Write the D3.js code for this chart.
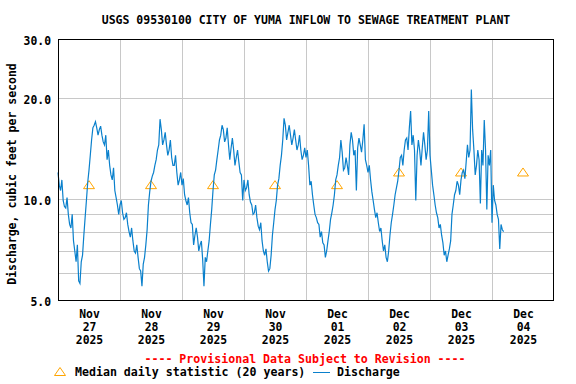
<!DOCTYPE html>
<html>
<head>
<meta charset="utf-8">
<script src="https://cdn.jsdelivr.net/npm/d3@7"></script>
<style>
  body { margin: 0; background: #fff; }
  text { font-family: "DejaVu Sans Mono", monospace; font-weight: bold; }
</style>
</head>
<body>
<div id="chart"></div>
<script>
// half-hourly discharge readings (cfs), one array per day starting 00:00 UTC
var nov27 = [12.0,11.0,10.6,11.4,9.9,9.5,9.4,10.1,9.0,8.4,8.2,9.0,7.5,7.0,6.5,7.3,5.7,5.6,6.5,6.8,7.8,8.8,9.9,11.2,
             12.2,13.5,15.0,16.3,16.6,17.0,16.3,15.5,16.1,16.5,15.5,14.8,14.5,15.5,13.1,14.0,12.6,11.8,11.4,12.4,10.6,10.1,9.6,9.0];
var nov28 = [9.6,9.9,9.1,8.7,8.8,9.1,8.4,8.0,7.7,8.2,7.5,7.0,6.9,7.3,6.7,6.2,6.1,5.5,6.4,6.7,7.3,8.1,9.6,10.5,
             11.3,11.7,12.0,12.6,13.1,14.0,14.5,17.3,16.1,14.5,15.0,15.8,14.5,13.5,14.0,15.0,13.3,12.6,12.6,13.5,12.0,11.0,11.4,12.0];
var nov29 = [11.0,11.5,10.3,9.9,9.6,10.1,9.1,8.5,8.4,7.3,7.8,8.2,7.7,7.0,7.3,7.5,6.6,5.5,6.7,6.5,7.0,7.5,8.4,9.3,
             10.6,11.8,12.2,13.1,14.0,15.0,15.5,16.6,16.1,14.8,15.2,16.3,14.5,13.1,14.2,15.2,14.0,12.6,13.3,14.0,12.9,12.0,11.8,9.9];
var nov30 = [11.4,10.6,10.8,11.4,10.3,9.8,9.6,9.0,9.1,9.6,8.8,8.3,8.1,8.5,7.5,7.0,6.8,7.1,6.5,6.1,6.2,6.8,7.8,8.5,
             9.3,9.9,11.0,11.5,12.6,13.5,15.0,17.4,16.6,15.0,15.8,16.6,15.5,14.5,15.2,16.1,15.0,14.0,14.5,15.5,14.0,13.1,13.5,14.2];
var dec01 = [13.3,14.0,12.6,11.0,11.3,10.3,9.6,9.0,8.8,8.5,8.4,7.7,8.0,7.4,7.3,6.7,7.0,7.5,8.0,8.7,9.1,9.6,10.3,11.4,
             11.8,12.6,13.3,15.0,13.8,12.2,12.4,13.3,12.6,11.8,14.5,15.8,15.0,13.5,14.0,10.6,14.2,15.2,14.5,13.8,15.0,16.7,13.1,12.6];
var dec02 = [12.0,12.6,11.4,10.5,9.9,9.3,8.8,9.1,8.5,8.0,8.2,7.5,7.0,7.3,6.7,6.5,7.0,7.8,8.5,9.0,9.6,10.3,10.8,11.3,
             12.2,13.3,13.5,12.6,14.0,15.0,15.2,14.0,16.3,18.3,14.5,15.5,14.0,9.9,13.5,15.0,14.0,12.6,14.2,15.8,14.5,13.1,14.0,18.3];
var dec03 = [13.5,12.2,11.0,10.3,9.6,9.1,8.8,8.2,8.4,7.8,7.4,6.8,7.0,6.5,6.8,7.1,7.5,9.0,9.6,10.3,10.6,11.3,11.0,10.3,
             11.4,12.0,12.2,11.5,12.9,14.5,13.3,14.0,21.2,16.1,14.0,11.8,12.6,14.0,13.1,9.7,14.0,12.6,17.2,14.0,9.3,13.5,12.6,14.0];
var dec04 = [8.5,11.0,9.9,9.6,9.0,8.7,7.1,8.4,8.1,8.0];

// median daily statistic, plotted at noon of each day
var medianDays = ["2025-11-27","2025-11-28","2025-11-29","2025-11-30","2025-12-01","2025-12-02","2025-12-03","2025-12-04"];
var medianValues = [11.0, 11.0, 11.0, 11.0, 11.0, 12.0, 12.0, 12.0];

var yTickValues = [5, 10, 20, 30];
var yGridValues = [6, 7, 8, 9, 10, 20];
var monthNames = ["Jan","Feb","Mar","Apr","May","Jun","Jul","Aug","Sep","Oct","Nov","Dec"];

var width = 576, height = 384;
var margin = { top: 39, right: 22, bottom: 84, left: 58 };

var svg = d3.select("#chart").append("svg")
    .attr("width", width)
    .attr("height", height);

var startTime = Date.UTC(2025, 10, 27);
var endTime = Date.UTC(2025, 11, 5);
var halfHour = 30 * 60 * 1000;

var discharge = [].concat(nov27, nov28, nov29, nov30, dec01, dec02, dec03, dec04);
var points = discharge.map(function (v, i) { return { t: new Date(startTime + i * halfHour), v: v }; });

var x = d3.scaleUtc()
    .domain([new Date(startTime), new Date(endTime)])
    .range([margin.left, width - margin.right]);

var y = d3.scaleLog()
    .domain([5, 30])
    .range([height - margin.bottom, margin.top]);

// gridlines
var dayBounds = d3.utcDay.range(new Date(startTime + 1), new Date(endTime));
svg.append("g")
    .selectAll("line")
    .data(dayBounds)
    .join("line")
    .attr("x1", function (d) { return Math.round(x(d)) + 0.5; })
    .attr("x2", function (d) { return Math.round(x(d)) + 0.5; })
    .attr("y1", margin.top)
    .attr("y2", height - margin.bottom)
    .attr("stroke", "#c8c8c8");

svg.append("g")
    .selectAll("line")
    .data(yGridValues)
    .join("line")
    .attr("x1", margin.left)
    .attr("x2", width - margin.right)
    .attr("y1", function (d) { return Math.round(y(d)) + 0.5; })
    .attr("y2", function (d) { return Math.round(y(d)) + 0.5; })
    .attr("stroke", "#c8c8c8");

// median triangles (drawn under the discharge line)
var medians = medianDays.map(function (d, i) {
    return { t: new Date(Date.parse(d + "T12:00:00Z")), v: medianValues[i] };
});
svg.append("g")
    .selectAll("path")
    .data(medians)
    .join("path")
    .attr("transform", function (d) { return "translate(" + x(d.t) + "," + y(d.v) + ")"; })
    .attr("d", "M0,-4.5L5.5,3.5L-5.5,3.5Z")
    .attr("fill", "none")
    .attr("stroke", "#ffa500")
    .attr("stroke-width", 1);

// discharge line
var line = d3.line()
    .x(function (d) { return x(d.t); })
    .y(function (d) { return y(d.v); });

svg.append("path")
    .datum(points)
    .attr("d", line)
    .attr("fill", "none")
    .attr("stroke", "#0a80cc")
    .attr("stroke-width", 1.2);

// frame
svg.append("rect")
    .attr("x", margin.left + 0.5)
    .attr("y", margin.top + 0.5)
    .attr("width", width - margin.right - margin.left - 1)
    .attr("height", height - margin.bottom - margin.top)
    .attr("fill", "none")
    .attr("stroke", "#000");

// y axis labels
var yAxis = svg.append("g")
    .attr("transform", "translate(" + margin.left + ",0)")
    .call(d3.axisLeft(y).tickValues(yTickValues).tickSize(0).tickPadding(7).tickFormat(d3.format(".1f")));
yAxis.select(".domain").remove();
yAxis.selectAll("text")
    .attr("font-size", "11.4px")
    .attr("font-family", "DejaVu Sans Mono")
    .attr("font-weight", "bold")
    .attr("fill", "#000")
    .attr("dy", "0.45em");

// x axis labels: month / day / year, at noon of each day
var noons = d3.utcDay.range(new Date(startTime), new Date(endTime)).map(function (d) { return d3.utcHour.offset(d, 12); });
var xAxis = svg.append("g")
    .attr("transform", "translate(0," + (height - margin.bottom) + ")")
    .call(d3.axisBottom(x).tickValues(noons).tickSize(0).tickFormat(""));
xAxis.select(".domain").remove();
xAxis.selectAll(".tick text").remove();
xAxis.selectAll(".tick").each(function (d) {
    var t = d3.select(this).append("text")
        .attr("fill", "#000")
        .attr("font-size", "11.4px")
        .attr("text-anchor", "middle");
    var parts = [monthNames[d.getUTCMonth()], d3.utcFormat("%d")(d), d3.utcFormat("%Y")(d)];
    parts.forEach(function (p, i) {
        t.append("tspan").attr("x", 0).attr("y", 18 + i * 13).text(p);
    });
});

// title
svg.append("text")
    .attr("x", 306)
    .attr("y", 24)
    .attr("text-anchor", "middle")
    .attr("font-size", "11.5px")
    .text("USGS 09530100 CITY OF YUMA INFLOW TO SEWAGE TREATMENT PLANT");

// y axis title
svg.append("text")
    .attr("transform", "translate(16,174) rotate(-90)")
    .attr("text-anchor", "middle")
    .attr("font-size", "11.5px")
    .text("Discharge, cubic feet per second");

// provisional note
svg.append("text")
    .attr("x", 305)
    .attr("y", 363)
    .attr("text-anchor", "middle")
    .attr("font-size", "11.6px")
    .attr("fill", "#ff0000")
    .text("---- Provisional Data Subject to Revision ----");

// legend
var legend = svg.append("g").attr("transform", "translate(0,372)");
legend.append("path")
    .attr("transform", "translate(60,0)")
    .attr("d", "M0,-4.5L5.5,3.5L-5.5,3.5Z")
    .attr("fill", "none")
    .attr("stroke", "#ffa500");
legend.append("text")
    .attr("x", 75)
    .attr("y", 4)
    .attr("font-size", "11.6px")
    .text("Median daily statistic (20 years)");
legend.append("line")
    .attr("x1", 313).attr("x2", 330)
    .attr("y1", 0.5).attr("y2", 0.5)
    .attr("stroke", "#0a80cc");
legend.append("text")
    .attr("x", 337)
    .attr("y", 4)
    .attr("font-size", "11.6px")
    .text("Discharge");
</script>
</body>
</html>
